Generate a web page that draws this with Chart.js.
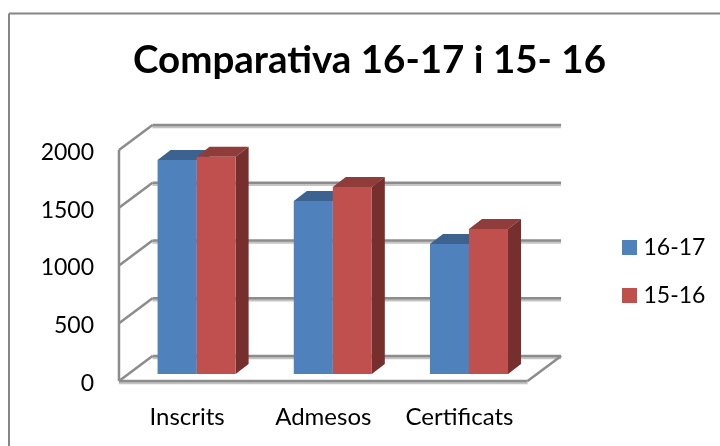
<!DOCTYPE html>
<html>
<head>
<meta charset="utf-8">
<style>
  html, body { margin: 0; padding: 0; background: #fff; }
  canvas { display: block; }
</style>
<script src="https://cdn.jsdelivr.net/npm/chart.js@4"></script>
</head>
<body>
<canvas id="chart" width="720" height="446"></canvas>
<script>
const categories = ["Inscrits", "Admesos", "Certificats"];
const seriesNames = ["16-17", "15-16"];
const values1617 = [1853, 1498, 1125];
const values1516 = [1880, 1620, 1255];
const yMax = 2000;
const yStep = 500;

const blue = "#4f81bd", blueTop = "#3c6290", blueSide = "#345679";
const red = "#c0504d", redTop = "#8f3c3a", redSide = "#772f2e";
const gridColor = "#8c8c8c", gridShade = "#c4c4c4";

const font = "Lato, Carlito, sans-serif";

// legend swatch as a small canvas, so the gap to the text can be set
const swatch = (color) => {
  const c = document.createElement("canvas");
  c.width = 15;
  c.height = 15;
  const g = c.getContext("2d");
  g.fillStyle = color;
  g.fillRect(0, 0, 15, 15);
  return c;
};

// fake 3D: walls and bar sides are worked out from the scales
const wall3d = {
  id: "wall3d",
  afterLayout(chart) {
    // legend sits further right than the layout would put it
    const lg = chart.legend;
    lg.left = 601;
    lg.right = 720;
    lg.top = 211;
    lg.bottom = 446;
    // title is centred on the whole frame, not on plot + padding
    chart.titleBlock.left = 19;
    chart.titleBlock.right = 720;
  },
  beforeDatasetsDraw(chart) {
    const { ctx, scales: { x, y } } = chart;
    const front = { dx: -9.5, dy: 7 };
    const back = { dx: 24, dy: -18 };

    const line = (x1, y1, x2, y2) => {
      ctx.beginPath();
      ctx.moveTo(x1, y1);
      ctx.lineTo(x2, y2);
      ctx.stroke();
    };

    ctx.save();
    // outer frame, right and bottom are cut off in the picture
    ctx.strokeStyle = "#868686";
    ctx.lineWidth = 2;
    line(9, 446, 9, 13.5);
    line(9, 13.5, 720, 13.5);

    // back wall + side wall lines
    ctx.lineWidth = 2.5;
    for (let v = 0; v <= yMax; v += yStep) {
      const py = y.getPixelForValue(v);
      ctx.strokeStyle = gridShade;
      line(x.left + back.dx, py + back.dy + 2, x.right + back.dx, py + back.dy + 2);
      ctx.strokeStyle = gridColor;
      line(x.left + back.dx, py + back.dy, x.right + back.dx, py + back.dy);
      line(x.left + front.dx, py + front.dy, x.left + back.dx, py + back.dy);
    }

    // left edge and floor
    const y0 = y.getPixelForValue(0), yTop = y.getPixelForValue(yMax);
    line(x.left + front.dx, yTop + front.dy, x.left + front.dx, y0 + front.dy);
    ctx.strokeStyle = gridShade;
    line(x.left + front.dx, y0 + front.dy + 2, x.right + front.dx, y0 + front.dy + 2);
    ctx.strokeStyle = gridColor;
    line(x.left + front.dx, y0 + front.dy, x.right + front.dx, y0 + front.dy);
    line(x.right + front.dx, y0 + front.dy, x.right + back.dx, y0 + back.dy);

    // bar tops and sides
    const depthX = 13, depthY = 10;
    const tops = [blueTop, redTop], sides = [blueSide, redSide];
    chart.data.datasets.forEach((ds, i) => {
      chart.getDatasetMeta(i).data.forEach((bar) => {
        const l = bar.x - bar.width / 2, r = bar.x + bar.width / 2;
        ctx.fillStyle = tops[i];
        ctx.beginPath();
        ctx.moveTo(l, bar.y);
        ctx.lineTo(l + depthX, bar.y - depthY);
        ctx.lineTo(r + depthX, bar.y - depthY);
        ctx.lineTo(r, bar.y);
        ctx.closePath();
        ctx.fill();
        ctx.fillStyle = sides[i];
        ctx.beginPath();
        ctx.moveTo(r, bar.y);
        ctx.lineTo(r + depthX, bar.y - depthY);
        ctx.lineTo(r + depthX, bar.base - depthY);
        ctx.lineTo(r, bar.base);
        ctx.closePath();
        ctx.fill();
      });
    });
    ctx.restore();
  },
};

new Chart(document.getElementById("chart"), {
  type: "bar",
  data: {
    labels: categories,
    datasets: [
      { label: seriesNames[0], data: values1617, backgroundColor: blue },
      { label: seriesNames[1], data: values1516, backgroundColor: red },
    ],
  },
  plugins: [wall3d],
  options: {
    responsive: false,
    animation: false,
    devicePixelRatio: 1,
    layout: { padding: { left: 19, right: 68.5, top: 0, bottom: 0 } },
    categoryPercentage: 0.573,
    barPercentage: 1,
    plugins: {
      tooltip: { enabled: false },
      title: {
        display: true,
        text: "Comparativa 16-17 i 15- 16",
        color: "#000",
        font: { family: font, size: 38.5, weight: "bold" },
        padding: { top: 37, bottom: 59.8 },
      },
      legend: {
        position: "right",
        align: "start",
        labels: {
          color: "#000",
          font: { family: font, size: 23 },
          usePointStyle: true,
          pointStyleWidth: 6,
          boxHeight: 15,
          padding: 25,
          generateLabels: () => seriesNames.map((text, i) => ({
            text,
            datasetIndex: i,
            lineWidth: 0,
            pointStyle: swatch([blue, red][i]),
          })),
        },
      },
    },
    scales: {
      x: {
        grid: { display: false, drawTicks: false },
        border: { display: false },
        ticks: {
          color: "#000",
          font: { family: font, size: 24 },
          padding: 29,
          labelOffset: -9.5,
          autoSkip: false,
          maxRotation: 0,
        },
        afterFit(scale) { scale.height = 72; },
      },
      y: {
        min: 0,
        max: yMax,
        grid: { display: false, drawTicks: false },
        border: { display: false },
        ticks: {
          color: "#000",
          font: { family: font, size: 23 },
          stepSize: yStep,
          padding: 34.5,
          labelOffset: 9.5,
          callback: (v) => String(v),
        },
        afterFit(scale) { scale.width = 109.5; },
      },
    },
  },
});
</script>
</body>
</html>
